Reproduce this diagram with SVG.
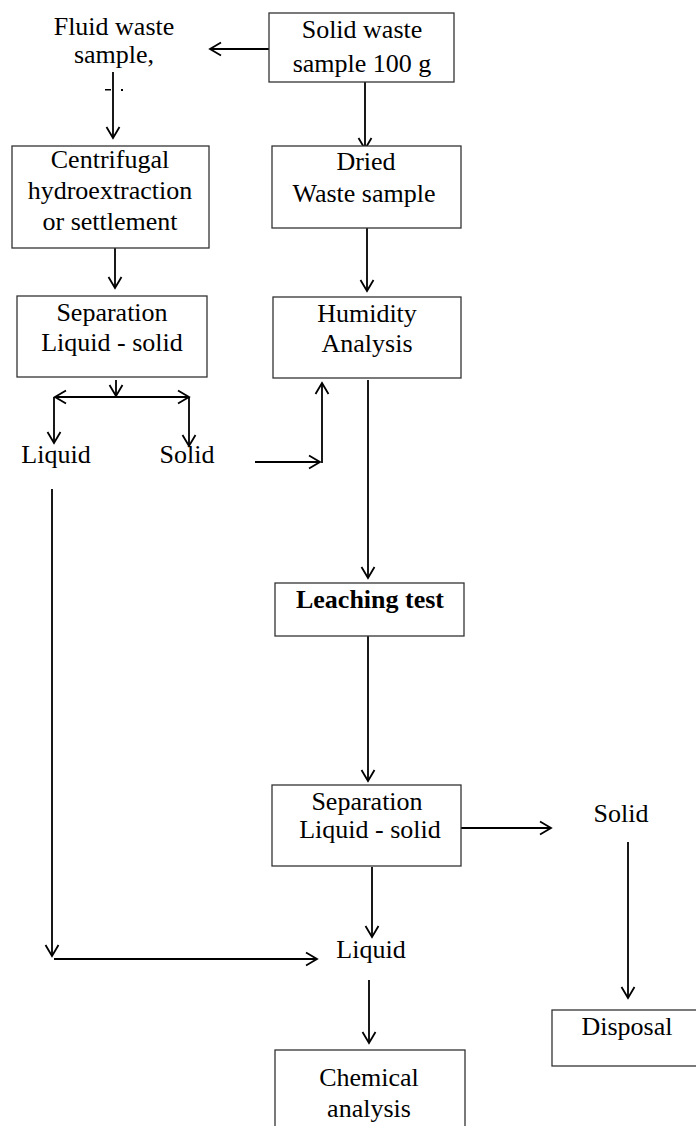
<svg xmlns="http://www.w3.org/2000/svg" width="696" height="1126" viewBox="0 0 696 1126">
<style>
.box{fill:#fff;stroke:#333;stroke-width:1.3}
.t{font-family:"Liberation Serif","Times New Roman",serif;font-size:26px;fill:#000;text-anchor:middle}
.b{font-weight:bold}
.c{fill:none;stroke:#000;stroke-width:1.8}
</style>
<defs>
<marker id="ah" markerUnits="userSpaceOnUse" viewBox="-1 -8 14 16" markerWidth="14" markerHeight="16" refX="11" refY="0" orient="auto-start-reverse">
<path d="M0,-6.5 L11,0 L0,6.5" fill="none" stroke="#000" stroke-width="1.8"/>
</marker>
</defs>
<rect width="696" height="1126" fill="#fff"/>
<g id="connectors">
<line class="c" x1="269" y1="49" x2="210" y2="49" marker-end="url(#ah)"/>
<line class="c" x1="113" y1="72" x2="113" y2="138" marker-end="url(#ah)"/>
<line class="c" x1="365" y1="82" x2="365" y2="149" marker-end="url(#ah)"/>
<line class="c" x1="367" y1="218" x2="367" y2="291" marker-end="url(#ah)"/>
<line class="c" x1="115" y1="246" x2="115" y2="288" marker-end="url(#ah)"/>
<line class="c" x1="116" y1="380" x2="116" y2="396" marker-end="url(#ah)"/>
<line class="c" x1="55" y1="397" x2="189" y2="397" marker-start="url(#ah)" marker-end="url(#ah)"/>
<line class="c" x1="54" y1="397" x2="54" y2="443" marker-end="url(#ah)"/>
<line class="c" x1="189" y1="397" x2="189" y2="446" marker-end="url(#ah)"/>
<line class="c" x1="255" y1="462" x2="320" y2="462" marker-end="url(#ah)"/>
<line class="c" x1="322" y1="463" x2="322" y2="383" marker-end="url(#ah)"/>
<line class="c" x1="368" y1="380" x2="368" y2="578" marker-end="url(#ah)"/>
<line class="c" x1="368" y1="636" x2="368" y2="781" marker-end="url(#ah)"/>
<line class="c" x1="461" y1="828" x2="551" y2="828" marker-end="url(#ah)"/>
<line class="c" x1="372" y1="867" x2="372" y2="937" marker-end="url(#ah)"/>
<line class="c" x1="52" y1="489" x2="52" y2="956" marker-end="url(#ah)"/>
<line class="c" x1="54" y1="959" x2="317" y2="959" marker-end="url(#ah)"/>
<line class="c" x1="369" y1="980" x2="369" y2="1043" marker-end="url(#ah)"/>
<line class="c" x1="628" y1="842" x2="628" y2="998" marker-end="url(#ah)"/>
</g>
<g id="fluid">
<text class="t" x="114" y="35">Fluid waste</text>
<text class="t" x="114" y="63">sample,</text>
<rect x="105" y="89" width="6" height="1.5" fill="#000"/>
<rect x="121" y="89" width="2" height="2" fill="#000"/>
</g>
<g id="solid-waste">
<rect class="box" x="269" y="13" width="185" height="69"/>
<text class="t" x="362" y="38">Solid waste</text>
<text class="t" x="362" y="72">sample 100 g</text>
</g>
<g id="centrifugal">
<rect class="box" x="12" y="146" width="197" height="102"/>
<text class="t" x="110" y="168">Centrifugal</text>
<text class="t" x="110" y="199">hydroextraction</text>
<text class="t" x="110" y="230">or settlement</text>
</g>
<g id="dried">
<rect class="box" x="272" y="146" width="189" height="82"/>
<text class="t" x="366" y="170">Dried</text>
<text class="t" x="364" y="202">Waste sample</text>
</g>
<g id="separation1">
<rect class="box" x="17" y="296" width="190" height="81"/>
<text class="t" x="112" y="321">Separation</text>
<text class="t" x="112" y="351">Liquid - solid</text>
</g>
<g id="humidity">
<rect class="box" x="273" y="297" width="188" height="81"/>
<text class="t" x="367" y="322">Humidity</text>
<text class="t" x="367" y="352">Analysis</text>
</g>
<g id="liquid1"><text class="t" x="56" y="463">Liquid</text></g>
<g id="solid1"><text class="t" x="187" y="463">Solid</text></g>
<g id="leaching">
<rect class="box" x="275" y="583" width="189" height="53"/>
<text class="t b" x="370" y="608">Leaching test</text>
</g>
<g id="separation2">
<rect class="box" x="272" y="785" width="189" height="81"/>
<text class="t" x="367" y="810">Separation</text>
<text class="t" x="370" y="838">Liquid - solid</text>
</g>
<g id="solid2"><text class="t" x="621" y="822">Solid</text></g>
<g id="liquid2"><text class="t" x="371" y="958">Liquid</text></g>
<g id="disposal">
<rect class="box" x="552" y="1010" width="160" height="56"/>
<text class="t" x="627" y="1035">Disposal</text>
</g>
<g id="chemical">
<rect class="box" x="275" y="1050" width="190" height="110"/>
<text class="t" x="369" y="1086">Chemical</text>
<text class="t" x="369" y="1117">analysis</text>
</g>
</svg>
